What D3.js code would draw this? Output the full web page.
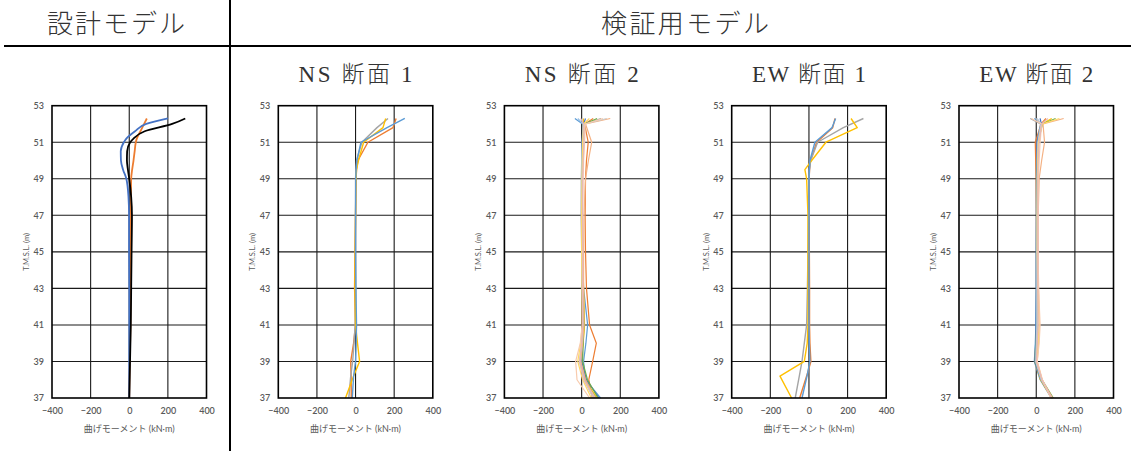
<!DOCTYPE html>
<html>
<head>
<meta charset="utf-8">
<script src="https://cdn.jsdelivr.net/npm/d3@7"></script>
<style>
  html, body { margin: 0; padding: 0; background: #fff; }
  svg { display: block; }
</style>
</head>
<body>
<script>
// ---- tick labels ----
const xTicks = [-400, -200, 0, 200, 400];
const yTicks = [37, 39, 41, 43, 45, 47, 49, 51, 53];

// ---- panel titles ----
const panelTitles = ["", "NS 断面 1", "NS 断面 2", "EW 断面 1", "EW 断面 2"];

// ---- elevations (T.M.S.L., m) ----
const designElev = [52.3, 52.0, 51.6, 51.2, 51.0, 50.5, 50.0, 49.5, 49.0, 48.0, 47.0, 45.0, 43.0, 41.0, 39.0, 37.0];
const elevA = [52.3, 51.8, 51.0, 50.0, 49.5, 49.0, 47.0, 45.0, 43.0, 41.0, 40.0, 39.0, 38.2, 37.0];
const elevB = [52.3, 52.0, 51.0, 50.0, 49.0, 47.0, 45.0, 43.0, 41.0, 40.0, 39.0, 38.0, 37.0];

// ---- bending moment (kN·m) : design model ----
const designBlue   = [200, 88, 30, -15, -28, -44, -43, -32, -15, -4, -1, -1, 0, 0, 0, 0];
const designOrange = [91, 77, 58, 39, 34, 28, 22, 15, 10, 9, 8, 8, 7, 6, 3, 0];
const designBlack  = [290, 222, 80, 22, 5, -11, -12, -7, 0, 10, 14, 12, 10, 8, 4, 0];

// ---- NS section 1 ----
const ns1Orange = [210, 194, 64, 12, 5, 3, 0, -3, -5, 0, -10, -25, -23, -22];
const ns1Gray   = [168, 111, 33, 5, 2, 0, 0, 0, 0, -2, -8, -15, -25, -35];
const ns1Gold   = [156, 142, 42, 15, 5, 2, 0, -2, -3, 0, 10, 21, -10, -52];
const ns1Blue   = [255, 163, 28, 7, 3, 1, 0, 0, 2, 5, 3, 0, -10, -17];

// ---- EW section 1 ----
const ew1Orange = [135, 123, 40, 8, 3, 1, 0, 2, 3, 3, 5, 10, -12, -48];
const ew1Gray   = [282, 178, 45, 9, 3, 0, -2, -5, -8, -12, -24, -36, -50, -71];
const ew1Gold   = [218, 250, 88, 14, -21, -12, -5, -5, -5, -5, -9, -24, -150, -90];
const ew1Blue   = [138, 120, 31, 5, 2, 0, 0, 0, 0, 0, 2, 5, -10, -36];

// ---- NS section 2 ----
const ns2Series = [
  [-35, 5, 8, 5, 3, 2, 5, 10, 31, 22, 10, 19, 98],
  [60, 15, 34, 25, 20, 18, 20, 25, 41, 76, 57, 37, 55],
  [100, 12, 5, 0, -2, -3, 0, 2, 5, 3, 0, 20, 75],
  [10, 8, 6, 3, 2, 0, 5, 10, 15, 8, -5, 15, 80],
  [20, 10, 3, 0, 0, 0, 2, 5, 10, 5, 0, 25, 90],
  [80, 14, 8, 5, 3, 2, 5, 8, 12, 8, 5, 30, 85],
  [-20, 8, 2, 0, 0, 0, 0, 3, 8, 3, -5, 15, 70],
  [148, 20, 52, 35, 20, 12, 10, 10, 12, 5, -5, 20, 65],
  [130, 15, 10, 5, 3, 2, 2, 3, 5, 0, -12, 10, 60],
  [40, 10, 5, 3, 2, 0, 0, 2, 3, -5, -20, 5, 50],
  [110, 18, 15, 10, 8, 5, 5, 5, 3, -7, -31, -24, 41],
  [-5, 10, 12, 8, 5, 5, 5, 5, 5, 0, -10, 10, 70]
];

// ---- EW section 2 ----
const ew2Series = [
  [-10, 28, 5, 3, 2, 2, 0, 0, -2, -5, -10, 20, 78],
  [50, 25, -5, -3, 0, 2, 3, 3, 5, 3, -3, 25, 80],
  [-31, 22, 3, 2, 2, 2, 3, 5, 5, 3, -5, 25, 82],
  [80, 30, 8, 5, 3, 3, 3, 3, 2, -2, -8, 22, 80],
  [20, 26, 4, 3, 2, 2, 2, 2, 0, -3, -8, 25, 85],
  [100, 32, 10, 6, 5, 5, 5, 5, 3, 0, -5, 30, 88],
  [5, 24, 8, 5, 5, 4, 3, 3, 3, 0, -3, 25, 82],
  [142, 35, 43, 28, 15, 10, 10, 12, 15, 12, 5, 30, 85],
  [0, 26, 10, 8, 6, 5, 5, 5, 5, 2, 0, 28, 80],
  [120, 30, 12, 8, 6, 5, 5, 8, 15, 10, 2, 30, 78],
  [-25, 28, 20, 15, 12, 10, 10, 12, 20, 15, 5, 32, 75],
  [60, 28, 15, 10, 8, 8, 8, 8, 10, 5, 0, 30, 80]
];

// ---- colours ----
const multiColors = ["#5B9BD5", "#ED7D31", "#A5A5A5", "#FFC000", "#4472C4", "#70AD47",
                     "#9DC3E6", "#F4B183", "#C9C9C9", "#FFD966", "#F8CBAD", "#E6B9B8"];

const panels = [
  { left: 52, curve: d3.curveMonotoneY, width: 1.8, series: [
      { elev: designElev, v: designOrange, c: "#ED7D31" },
      { elev: designElev, v: designBlue,   c: "#4472C4" },
      { elev: designElev, v: designBlack,  c: "#000000" } ] },
  { left: 278.3, curve: d3.curveLinear, width: 1.4, series: [
      { elev: elevA, v: ns1Orange, c: "#ED7D31" },
      { elev: elevA, v: ns1Gray,   c: "#A5A5A5" },
      { elev: elevA, v: ns1Gold,   c: "#FFC000" },
      { elev: elevA, v: ns1Blue,   c: "#5B9BD5" } ] },
  { left: 504.4, curve: d3.curveLinear, width: 1.2,
    series: ns2Series.map((v, i) => ({ elev: elevB, v, c: multiColors[i] })) },
  { left: 731.7, curve: d3.curveLinear, width: 1.4, series: [
      { elev: elevA, v: ew1Orange, c: "#ED7D31" },
      { elev: elevA, v: ew1Gray,   c: "#A5A5A5" },
      { elev: elevA, v: ew1Gold,   c: "#FFC000" },
      { elev: elevA, v: ew1Blue,   c: "#5B9BD5" } ] },
  { left: 959, curve: d3.curveLinear, width: 1.2,
    series: ew2Series.map((v, i) => ({ elev: elevB, v, c: multiColors[i] })) }
];

const W = 1131, H = 451;
const plotW = 154.5, plotTop = 105.7, plotBottom = 398;
const tickFont = "Lato, 'Open Sans', 'Noto Sans CJK JP', sans-serif";
const headFont = "'Liberation Serif', 'Noto Sans CJK JP', serif";

const svg = d3.select("body").append("svg").attr("width", W).attr("height", H);

// header rules
svg.append("line").attr("x1", 4).attr("x2", W).attr("y1", 46).attr("y2", 46)
  .attr("stroke", "#000").attr("stroke-width", 2);
svg.append("line").attr("x1", 230).attr("x2", 230).attr("y1", 0).attr("y2", H)
  .attr("stroke", "#000").attr("stroke-width", 2);

function header(xc, yb, size, len, txt) {
  svg.append("text").attr("x", xc).attr("y", yb).attr("text-anchor", "middle")
    .attr("font-family", headFont).attr("font-size", size).attr("font-weight", 300)
    .attr("fill", "#333").attr("textLength", len).attr("lengthAdjust", "spacing")
    .text(txt);
}
header(116, 33, 26, 138, "設計モデル");
header(685, 33, 26, 168, "検証用モデル");

const y = d3.scaleLinear().domain([37, 53]).range([plotBottom, plotTop]);

panels.forEach((p, pi) => {
  const x = d3.scaleLinear().domain([-400, 400]).range([p.left, p.left + plotW]);
  const g = svg.append("g");

  if (panelTitles[pi]) header(x(0), 82, 23, 114, panelTitles[pi]);

  // grid
  g.selectAll(".gx").data(xTicks.slice(1, -1)).join("line")
    .attr("x1", d => x(d)).attr("x2", d => x(d))
    .attr("y1", plotTop).attr("y2", plotBottom)
    .attr("stroke", "#1a1a1a").attr("stroke-width", 1.1);
  g.selectAll(".gy").data(yTicks.slice(1, -1)).join("line")
    .attr("x1", p.left).attr("x2", p.left + plotW)
    .attr("y1", d => y(d)).attr("y2", d => y(d))
    .attr("stroke", "#1a1a1a").attr("stroke-width", 1.1);

  // data lines
  const line = d3.line().curve(p.curve).x(d => x(d[0])).y(d => y(d[1]));
  p.series.forEach(s => {
    g.append("path")
      .datum(s.v.map((v, i) => [v, s.elev[i]]))
      .attr("d", line).attr("fill", "none")
      .attr("stroke", s.c).attr("stroke-width", p.width)
      .attr("stroke-linejoin", "round");
  });

  // frame
  g.append("rect").attr("x", p.left).attr("y", plotTop)
    .attr("width", plotW).attr("height", plotBottom - plotTop)
    .attr("fill", "none").attr("stroke", "#000").attr("stroke-width", 1.6);

  // axes (labels only)
  const ax = g.append("g").attr("transform", `translate(0,${plotBottom})`)
    .call(d3.axisBottom(x).tickValues(xTicks).tickSize(0).tickPadding(10));
  const ay = g.append("g").attr("transform", `translate(${p.left},0)`)
    .call(d3.axisLeft(y).tickValues(yTicks).tickSize(0).tickPadding(8));
  [ax, ay].forEach(a => {
    a.select(".domain").remove();
    a.selectAll("text").attr("font-family", tickFont).attr("font-size", 9)
      .attr("fill", "#595959").attr("font-weight", 600);
  });

  g.append("text")
    .attr("transform", `translate(${p.left - 25},${(plotTop + plotBottom) / 2}) rotate(-90)`)
    .attr("text-anchor", "middle").attr("dominant-baseline", "middle")
    .attr("font-family", tickFont)
    .attr("font-size", 7.5).attr("fill", "#595959").text("T.M.S.L. (m)");

  g.append("text").attr("x", x(0)).attr("y", 432).attr("text-anchor", "middle")
    .attr("font-family", tickFont).attr("font-size", 9).attr("fill", "#595959")
    .text("曲げモーメント (kN·m)");
});
</script>
</body>
</html>
